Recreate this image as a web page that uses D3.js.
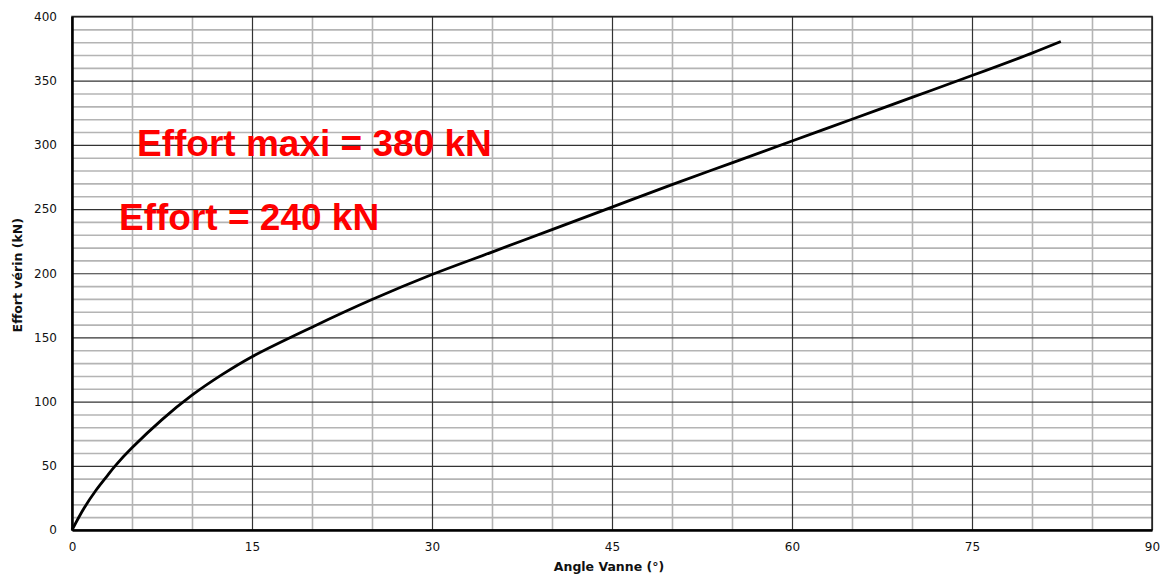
<!DOCTYPE html>
<html>
<head>
<meta charset="utf-8">
<script src="https://cdn.jsdelivr.net/npm/d3@7"></script>
<style>
  body { margin: 0; background: #fff; }
  #chart { width: 1167px; height: 576px; }
</style>
</head>
<body>
<div id="chart"></div>
<script>
// Curve: angle (°) -> effort (kN)
const angles = [0, 1, 2, 3, 3.6, 5, 7.5, 10, 12.5, 15, 20, 25, 30, 35, 40, 45, 50, 55, 60, 65, 70, 75, 80, 82.4];
const efforts = [0, 17, 31, 43, 50, 64, 86, 105, 121, 135, 158, 179.5, 199, 216.5, 234, 251.5, 269, 286, 303, 320, 337, 354, 371.5, 380.5];

const xMajorTicks = [0, 15, 30, 45, 60, 75, 90];
const yMajorTicks = [0, 50, 100, 150, 200, 250, 300, 350, 400];
const xMinorTicks = d3.range(0, 91, 5);
const yMinorTicks = d3.range(0, 401, 10);

const notes = ["Effort maxi = 380 kN", "Effort = 240 kN"];

const margin = { top: 16.5, right: 15, bottom: 46, left: 72 };
const width = 1167, height = 576;
const innerWidth = width - margin.left - margin.right;
const innerHeight = height - margin.top - margin.bottom;

const svg = d3.select("#chart").append("svg")
  .attr("width", width)
  .attr("height", height)
  .append("g")
  .attr("transform", `translate(${margin.left},${margin.top})`);

const x = d3.scaleLinear().domain([0, 90]).range([0, innerWidth]);
const y = d3.scaleLinear().domain([0, 400]).range([innerHeight, 0]);

// Grid helper: draw lines from an axis, then drop its (empty) labels
function grid(g, axis, color, w) {
  g.call(axis.tickFormat(""));
  g.select(".domain").remove();
  g.selectAll("text").remove();
  g.selectAll("line").attr("stroke", color).attr("stroke-width", w);
}

// Minor grid
svg.append("g")
  .attr("transform", `translate(0,${innerHeight})`)
  .call(grid, d3.axisBottom(x).tickValues(xMinorTicks.filter(d => d % 15 !== 0)).tickSize(-innerHeight), "#b4b4b4", 1.6);
svg.append("g")
  .call(grid, d3.axisLeft(y).tickValues(yMinorTicks.filter(d => d % 50 !== 0)).tickSize(-innerWidth), "#b4b4b4", 1.6);

// Major grid
svg.append("g")
  .attr("transform", `translate(0,${innerHeight})`)
  .call(grid, d3.axisBottom(x).tickValues(xMajorTicks).tickSize(-innerHeight), "#333", 1.2);
svg.append("g")
  .call(grid, d3.axisLeft(y).tickValues(yMajorTicks).tickSize(-innerWidth), "#333", 1.2);

// Frame
svg.append("rect")
  .attr("width", innerWidth)
  .attr("height", innerHeight)
  .attr("fill", "none")
  .attr("stroke", "#222")
  .attr("stroke-width", 1.5);

// Axes with labels
const xAxis = svg.append("g")
  .attr("transform", `translate(0,${innerHeight})`)
  .call(d3.axisBottom(x).tickValues(xMajorTicks).tickSize(0).tickPadding(12));
xAxis.select(".domain").attr("stroke", "#000").attr("stroke-width", 2.5);
xAxis.selectAll("text")
  .style("font-family", "DejaVu Sans, sans-serif")
  .style("font-size", "12px")
  .attr("fill", "#111");

const yAxis = svg.append("g")
  .call(d3.axisLeft(y).tickValues(yMajorTicks).tickSize(0).tickPadding(15));
yAxis.select(".domain").attr("stroke", "#000").attr("stroke-width", 2.5);
yAxis.selectAll("text")
  .style("font-family", "DejaVu Sans, sans-serif")
  .style("font-size", "12px")
  .attr("fill", "#111");

// Axis titles
svg.append("text")
  .attr("x", x(45) - 3)
  .attr("y", innerHeight + 41)
  .attr("text-anchor", "middle")
  .style("font-family", "DejaVu Sans, sans-serif")
  .style("font-size", "12.5px")
  .style("font-weight", "bold")
  .attr("fill", "#111")
  .text("Angle Vanne (°)");

svg.append("text")
  .attr("transform", "rotate(-90)")
  .attr("x", -(y(200) + 2))
  .attr("y", -margin.left + 22)
  .attr("text-anchor", "middle")
  .style("font-family", "DejaVu Sans, sans-serif")
  .style("font-size", "12.5px")
  .style("font-weight", "bold")
  .attr("fill", "#111")
  .text("Effort vérin (kN)");

// Curve
const points = angles.map((a, i) => [a, efforts[i]]);
svg.append("path")
  .datum(points)
  .attr("fill", "none")
  .attr("stroke", "#000")
  .attr("stroke-width", 2.8)
  .attr("d", d3.line().x(d => x(d[0])).y(d => y(d[1])).curve(d3.curveCatmullRom.alpha(0.5)));

// Red notes
svg.append("text")
  .attr("x", 137 - margin.left)
  .attr("y", 156 - margin.top)
  .style("font-family", "Liberation Sans, Arial, sans-serif")
  .style("font-size", "37px")
  .style("font-weight", "bold")
  .attr("fill", "#ff0000")
  .text(notes[0]);

svg.append("text")
  .attr("x", 119 - margin.left)
  .attr("y", 230 - margin.top)
  .style("font-family", "Liberation Sans, Arial, sans-serif")
  .style("font-size", "37px")
  .style("font-weight", "bold")
  .attr("fill", "#ff0000")
  .text(notes[1]);
</script>
</body>
</html>
